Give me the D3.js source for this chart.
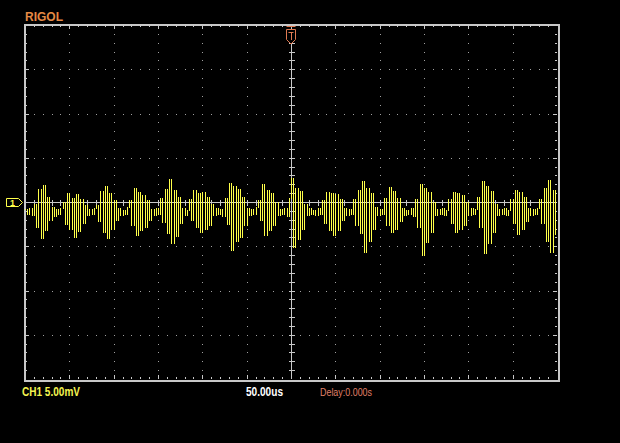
<!DOCTYPE html>
<html><head><meta charset="utf-8">
<script src="https://cdn.jsdelivr.net/npm/d3@7/dist/d3.min.js"></script>
<style>html,body{margin:0;padding:0;background:#000;}svg{display:block;}</style>
</head><body>
<script>
// ---- data (mV samples, 2.5 us apart, starting at -300 us) ----
const timeStart = -300;      // us
const timeStep = 2.5;        // us per sample
const samples = [
 -0.8,-1.4,-0.7,-1.5,
 -0.2,-2.8,1.5,-4.1,1.9,-3.2,0.6,-2.0,
 -0.6,-1.6,-0.8,-1.3,-0.7,
 0.0,-2.5,1.0,-3.0,0.5,-3.9,0.9,-3.3,0.3,-2.4,-0.3,
 -1.5,-0.8,-1.4,-0.7,
 -0.3,-2.2,1.2,-3.4,1.8,-4.1,1.0,-3.0,0.2,-2.0,
 -0.7,-1.5,-0.9,-1.4,-0.6,
 0.2,-2.6,1.6,-3.7,1.1,-3.2,0.8,-2.8,0.2,-2.0,
 -0.8,-1.5,-0.7,-1.4,
 0.4,-2.3,1.5,-3.5,2.6,-4.6,1.4,-3.8,0.6,-2.4,
 -0.7,-1.5,-0.9,
 0.3,-2.0,1.3,-2.8,1.0,-3.4,1.1,-3.0,0.6,-2.6,-0.2,
 -1.5,-0.7,-1.4,-0.8,-1.6,
 0.5,-2.5,2.2,-5.4,1.8,-4.4,1.5,-4.0,0.6,-2.6,
 -0.7,-1.5,-0.8,-1.4,-0.6,
 0.2,-2.0,2.0,-3.7,1.4,-3.2,1.0,-2.6,0.0,
 -1.5,-0.8,-1.4,-0.7,-1.6,
 0.5,2.7,-5.1,1.6,-4.2,1.2,-3.0,-0.2,
 -1.5,-0.7,-1.4,-0.9,-1.5,-0.7,-1.3,
 0.2,-2.4,1.1,-3.2,1.0,-3.7,0.9,-3.2,0.3,-2.0,
 -0.7,-1.5,-0.8,-1.4,
 0.3,-2.6,1.4,-3.5,2.4,-5.7,1.6,-4.4,1.0,-3.0,
 -0.6,-1.5,-0.8,-1.4,
 0.4,-2.6,1.7,-3.4,1.2,-3.0,0.5,-2.2,
 -0.7,-1.5,-0.9,-1.4,-0.7,-1.6,
 0.3,-2.8,2.0,-6.0,1.6,-4.5,1.1,-3.4,0.0,
 -1.5,-0.8,-1.4,-0.7,-1.5,-0.9,
 0.3,-2.4,1.1,-3.4,1.0,-3.0,0.8,-2.6,0.0,
 -1.5,-0.7,-1.4,-0.8,
 0.6,-2.8,2.4,-5.8,1.8,-4.6,1.2,-3.4,-0.2,
 -1.5,-0.8,-1.3,-0.7,-1.5,-0.9,
 0.3,-2.4,1.4,-3.6,1.1,-3.0,0.6,-2.2,
 -0.7,-1.5,-0.8,-1.4,-0.7,
 0.3,-2.4,1.6,-4.4,2.5,-5.7,1.4,-3.6
];
const timeDomain = [-300, 300];   // 12 div x 50 us
const voltDomain = [-20, 20];     // 8 div x 5 mV
const timeDiv = 50, voltDiv = 5;
const brandLabel = "RIGOL";
const chLabel = "CH1 5.00mV";
const tbLabel = "50.00us";
const delayLabel = "Delay:0.000s";

// ---- drawing ----
const W = 620, H = 443;
const svg = d3.select("body").append("svg").attr("width", W).attr("height", H)
  .style("background", "#000");
const x = d3.scaleLinear().domain(timeDomain).range([25, 557]);
const y = d3.scaleLinear().domain(voltDomain).range([379, 25]);
const px = v => Math.round(v) + 0.5;

const gridCol = "#a0a0a0", frameCol = "#c8c8c8";

// dotted grid
const xMajor = d3.range(timeDomain[0], timeDomain[1] + 1, timeDiv);
const yMajor = d3.range(voltDomain[0], voltDomain[1] + 0.1, voltDiv);
const xMinor = d3.range(timeDomain[0], timeDomain[1] + 0.1, timeDiv / 5);
const yMinor = d3.range(voltDomain[0], voltDomain[1] + 0.01, voltDiv / 5);
const dots = [];
xMajor.slice(1, -1).filter(t => t !== 0).forEach(t => {
  yMinor.slice(1, -1).forEach(v => dots.push([x(t), y(v)]));
});
yMajor.slice(1, -1).filter(v => v !== 0).forEach(v => {
  xMinor.slice(1, -1).forEach(t => dots.push([x(t), y(v)]));
});
svg.append("g").selectAll("rect").data(dots).join("rect")
  .attr("x", d => Math.round(d[0])).attr("y", d => Math.round(d[1]))
  .attr("width", 1).attr("height", 1).attr("fill", gridCol);

// frame
const g = svg.append("g").attr("stroke", frameCol).attr("stroke-width", 1).attr("fill", "none")
  .attr("shape-rendering", "crispEdges");
g.append("rect").attr("x", px(x(timeDomain[0])) - 1).attr("y", px(y(voltDomain[1])) - 1)
  .attr("width", Math.round(x(timeDomain[1]) - x(timeDomain[0])) + 2)
  .attr("height", Math.round(y(voltDomain[0]) - y(voltDomain[1])) + 2).attr("stroke-width", 2);

// frame ticks
const isMajorT = t => Math.abs(t % timeDiv) < 1e-6;
const isMajorV = v => Math.abs(v % voltDiv) < 1e-6;
xMinor.slice(1, -1).forEach(t => {
  const L = isMajorT(t) ? 4 : 2;
  g.append("line").attr("x1", px(x(t))).attr("x2", px(x(t))).attr("y1", y(voltDomain[1])).attr("y2", y(voltDomain[1]) + L);
  g.append("line").attr("x1", px(x(t))).attr("x2", px(x(t))).attr("y1", y(voltDomain[0])).attr("y2", y(voltDomain[0]) - L);
});
yMinor.slice(1, -1).forEach(v => {
  const L = isMajorV(v) ? 4 : 2;
  g.append("line").attr("y1", px(y(v))).attr("y2", px(y(v))).attr("x1", x(timeDomain[0])).attr("x2", x(timeDomain[0]) + L);
  g.append("line").attr("y1", px(y(v))).attr("y2", px(y(v))).attr("x1", x(timeDomain[1])).attr("x2", x(timeDomain[1]) - L);
});
// center crosshair with ticks
g.append("line").attr("x1", px(x(0))).attr("x2", px(x(0))).attr("y1", y(voltDomain[1])).attr("y2", y(voltDomain[0]));
g.append("line").attr("y1", px(y(0))).attr("y2", px(y(0))).attr("x1", x(timeDomain[0])).attr("x2", x(timeDomain[1]));
yMinor.slice(1, -1).forEach(v => {
  g.append("line").attr("y1", px(y(v))).attr("y2", px(y(v))).attr("x1", px(x(0)) - 3).attr("x2", px(x(0)) + 3);
});
xMinor.slice(1, -1).forEach(t => {
  g.append("line").attr("x1", px(x(t))).attr("x2", px(x(t))).attr("y1", px(y(0)) - 3).attr("y2", px(y(0)) + 3);
});

// trace: the scope draws a vertical stroke from each sample to the next
const path = d3.path();
samples.forEach((v, i) => {
  const xi = px(x(timeStart + i * timeStep));
  const prev = i > 0 ? samples[i - 1] : v;
  const y0 = Math.round(y(prev)), y1 = Math.round(y(v));
  path.moveTo(xi, Math.min(y0, y1));
  path.lineTo(xi, Math.max(y0, y1) + 1);
});
svg.append("path").attr("d", path.toString())
  .attr("fill", "none").attr("stroke", "#ffff4a").attr("stroke-width", 1)
  .attr("shape-rendering", "crispEdges");

// trigger position marker (top)
const tx = Math.round(x(0));
const trig = svg.append("g").attr("stroke", "#e07a52").attr("fill", "#000").attr("stroke-width", 1);
trig.append("path").attr("d", `M${tx-4.5},${29.5} H${tx+4.5} V${39.5} L${tx},${44} L${tx-4.5},${39.5} Z`);
trig.append("path").attr("d", `M${tx-4.5},${26.5} H${tx+4.5}`);
trig.append("path").attr("d", `M${tx-2.5},${32.5} H${tx+2.5} M${tx+0.5},${32.5} V${40}`).attr("fill", "none");

// channel marker (left), at the screen's zero line
const cy = Math.round(y(0)) + 1;
const ch = svg.append("g");
ch.append("path").attr("d", `M6.5,${cy-4.5} H18.5 L22.5,${cy-0.5} L18.5,${cy+3.5} H6.5 Z`)
  .attr("fill", "#000").attr("stroke", "#ffff4a").attr("stroke-width", 1);
ch.append("text").attr("x", 12.5).attr("y", cy + 3).attr("text-anchor", "middle")
  .attr("font-family", "Liberation Sans, Arial, sans-serif").attr("font-size", 9).attr("font-weight", "bold")
  .attr("fill", "#ffff4a").text("1");

// labels
svg.append("text").attr("x", 25).attr("y", 21).attr("fill", "#e58a44")
  .attr("font-family", "Liberation Sans, Arial, sans-serif").attr("font-weight", "bold").attr("font-size", 12.5)
  .attr("textLength", 38).attr("lengthAdjust", "spacingAndGlyphs").text(brandLabel);
svg.append("text").attr("x", 22).attr("y", 396).attr("fill", "#f4f450")
  .attr("font-family", "Liberation Sans, Arial, sans-serif").attr("font-weight", "bold").attr("font-size", 12)
  .attr("textLength", 58).attr("lengthAdjust", "spacingAndGlyphs").text(chLabel);
svg.append("text").attr("x", 246).attr("y", 396).attr("fill", "#ffffff")
  .attr("font-family", "Liberation Sans, Arial, sans-serif").attr("font-weight", "bold").attr("font-size", 12)
  .attr("textLength", 37).attr("lengthAdjust", "spacingAndGlyphs").text(tbLabel);
svg.append("text").attr("x", 320).attr("y", 396).attr("fill", "#e08068")
  .attr("font-family", "Liberation Sans, Arial, sans-serif").attr("font-size", 11.5)
  .attr("textLength", 52).attr("lengthAdjust", "spacingAndGlyphs").text(delayLabel);
</script>
</body></html>
